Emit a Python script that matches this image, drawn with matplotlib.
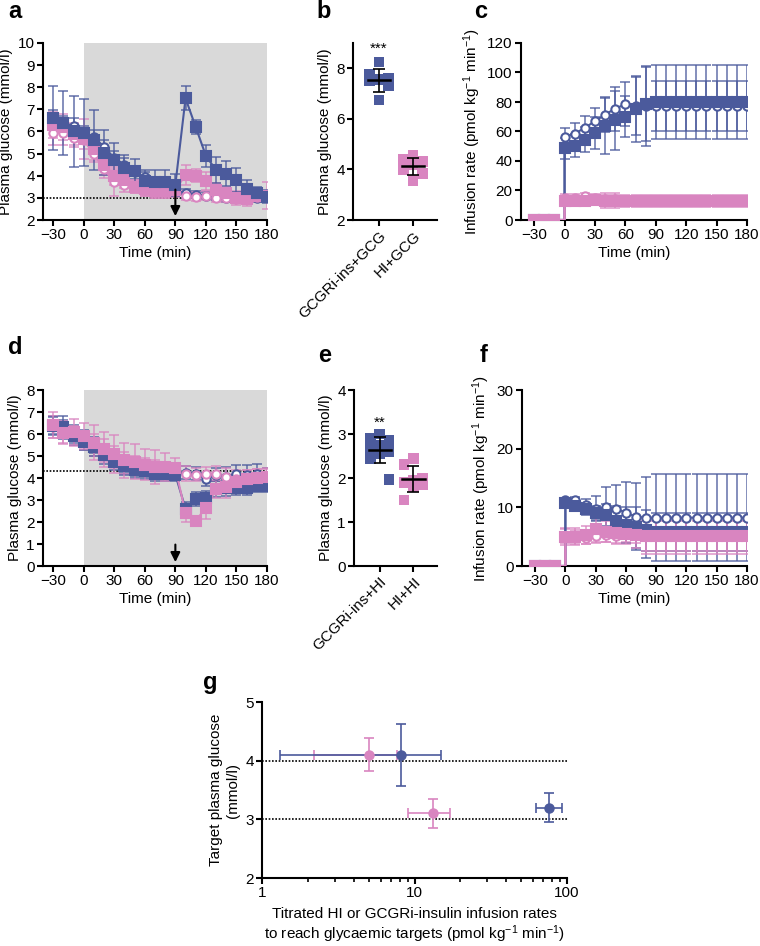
import numpy as np
import matplotlib
matplotlib.use('Agg')
import matplotlib.pyplot as plt

plt.rcParams['font.family'] = ['Liberation Sans', 'DejaVu Sans']
plt.rcParams['mathtext.default'] = 'regular'
plt.rcParams['font.size'] = 11

# Colours
BLUE = '#4b5a9c'
PINK = '#d985c0'
SHADE = '#d9d9d9'
FS = 11

# ---- Data: panels a and d (plasma glucose, mmol/l) ----
t_glu = [-30, -20, -10, 0, 10, 20, 30, 40, 50, 60, 70, 80, 90,
         100, 110, 120, 130, 140, 150, 160, 170, 180]

a_blue_sq = [6.6, 6.4, 6.0, 5.95, 5.6, 5.05, 4.7, 4.35, 4.2, 3.75, 3.7, 3.7, 3.6,
             7.5, 6.2, 4.9, 4.25, 4.1, 3.8, 3.4, 3.2, 3.05]
a_blue_sq_sd = [1.45, 1.45, 1.6, 1.5, 1.35, 1.0, 0.8, 0.6, 0.55, 0.4, 0.55, 0.55, 0.5,
                0.55, 0.3, 0.5, 0.6, 0.55, 0.55, 0.4, 0.3, 0.3]
a_blue_ci = [6.65, 6.4, 6.25, 5.95, 5.75, 5.3, 4.8, 4.5, 4.15, 3.95, 3.65, 3.45, 3.35,
             3.2, 3.15, 3.1, 3.05, 3.0, 3.05, 3.05, 3.0, 3.05]
a_blue_ci_sd = [0.3, 0.3, 0.35, 0.3, 0.3, 0.3, 0.3, 0.3, 0.3, 0.3, 0.25, 0.25, 0.2,
                0.2, 0.15, 0.15, 0.15, 0.2, 0.2, 0.2, 0.2, 0.2]
a_pink_sq = [6.3, 6.2, 5.9, 5.65, 5.2, 4.5, 4.0, 3.8, 3.5, 3.4, 3.3, 3.3, 3.35,
             4.05, 4.0, 3.75, 3.35, 3.2, 3.0, 2.95, 3.1, 3.1]
a_pink_sq_sd = [0.6, 0.6, 0.5, 0.9, 0.5, 0.45, 0.4, 0.35, 0.3, 0.3, 0.3, 0.3, 0.3,
                0.45, 0.3, 0.4, 0.3, 0.3, 0.3, 0.3, 0.3, 0.6]
a_pink_ci = [5.95, 5.95, 5.7, 5.6, 5.0, 4.3, 3.7, 3.6, 3.5, 3.35, 3.25, 3.25, 3.3,
             3.1, 3.05, 3.1, 3.0, 3.0, 2.95, 2.95, 3.05, 3.1]
a_pink_ci_sd = [0.55, 0.55, 0.4, 0.4, 0.4, 0.4, 0.6, 0.35, 0.3, 0.25, 0.25, 0.25, 0.2,
                0.2, 0.2, 0.2, 0.2, 0.2, 0.2, 0.2, 0.2, 0.2]

d_blue_sq = [6.35, 6.3, 5.9, 5.65, 5.4, 5.05, 4.75, 4.55, 4.35, 4.3, 4.2, 4.2, 4.15,
             2.6, 3.05, 3.1, 3.5, 3.55, 3.55, 3.55, 3.65, 3.65]
d_blue_sq_sd = [0.4, 0.5, 0.4, 0.4, 0.4, 0.4, 0.4, 0.4, 0.35, 0.35, 0.35, 0.35, 0.3,
                0.3, 0.3, 0.3, 0.35, 0.35, 0.3, 0.3, 0.3, 0.3]
d_blue_ci = [6.4, 6.2, 6.0, 5.8, 5.5, 5.15, 4.85, 4.6, 4.4, 4.35, 4.3, 4.3, 4.25,
             4.25, 4.2, 3.95, 4.15, 4.05, 4.2, 4.15, 4.2, 4.05]
d_blue_ci_sd = [0.4, 0.45, 0.4, 0.4, 0.35, 0.35, 0.35, 0.35, 0.3, 0.3, 0.3, 0.3, 0.3,
                0.3, 0.3, 0.3, 0.3, 0.45, 0.4, 0.45, 0.45, 0.4]
d_pink_sq = [6.4, 6.05, 6.1, 5.9, 5.6, 5.3, 5.1, 4.8, 4.75, 4.6, 4.5, 4.5, 4.45,
             2.4, 2.05, 2.65, 3.5, 3.6, 3.8, 3.95, 4.0, 4.05]
d_pink_sq_sd = [0.6, 0.5, 0.6, 0.6, 0.8, 0.8, 0.85, 0.8, 0.8, 0.7, 0.75, 0.65, 0.45,
                0.4, 0.2, 0.5, 0.4, 0.5, 0.4, 0.4, 0.4, 0.4]
d_pink_ci = [6.3, 6.1, 5.9, 5.7, 5.5, 5.25, 4.95, 4.7, 4.6, 4.5, 4.4, 4.35, 4.3,
             4.2, 4.15, 4.2, 4.2, 4.05, 3.95, 4.0, 4.05, 4.05]
d_pink_ci_sd = [0.5, 0.5, 0.45, 0.45, 0.5, 0.5, 0.5, 0.5, 0.4, 0.4, 0.4, 0.4, 0.35,
                0.35, 0.3, 0.3, 0.35, 0.4, 0.4, 0.35, 0.35, 0.35]

# ---- Data: panels b and e (individual glucose values) ----
b_labels = ['GCGRi-ins+GCG', 'HI+GCG']
b_blue = [8.25, 7.75, 7.6, 7.55, 7.5, 7.3, 6.75]
b_pink = [4.55, 4.4, 4.3, 4.2, 4.0, 3.85, 3.55]
e_labels = ['GCGRi-ins+HI', 'HI+HI']
e_blue = [3.0, 2.9, 2.85, 2.75, 2.65, 2.6, 2.55, 2.45, 1.97]
e_pink = [2.45, 2.3, 2.0, 1.95, 1.9, 1.85, 1.8, 1.5]

# ---- Data: panels c and f (infusion rates) ----
t_inf = [-30, -20, -10, 0, 0, 10, 20, 30, 40, 50, 60, 70, 80, 90,
         100, 110, 120, 130, 140, 150, 160, 170, 180]

c_blue_sq = [0, 0, 0, 0, 48.5, 50.5, 54.5, 59, 63.5, 67.5, 70, 75, 78.5, 80,
             80, 80, 80, 80, 80, 80, 80, 80, 80]
c_blue_sq_sd = [0, 0, 0, 0, 7, 8, 8.5, 11, 19, 20, 14, 22, 25, 25,
                25, 25, 25, 25, 25, 25, 25, 25, 25]
c_blue_ci = [0, 0, 0, 0, 56.5, 58.5, 62.5, 67, 71.5, 75.5, 78.5, 77.5, 77.5, 77,
             77, 77, 77, 77, 77, 77, 77, 77, 77]
c_blue_ci_sd = [0, 0, 0, 0, 6, 7.5, 8, 9, 12, 15, 15, 20, 27, 17,
                17, 17, 17, 17, 17, 17, 17, 17, 17]
c_pink_sq = [0, 0, 0, 0, 13, 13, 13, 13.5, 13, 13, 13, 13, 13, 13,
             13, 13, 13, 13, 13, 13, 13, 13, 13]
c_pink_sq_sd = [0, 0, 0, 0, 3, 3, 3, 3.5, 5, 5, 4, 4, 4, 4,
                4, 4, 4, 4, 4, 4, 4, 4, 4]
c_pink_ci = [0, 0, 0, 0, 15, 15, 16, 15, 14, 14, 13.5, 13, 13, 13,
             13, 13, 13, 13, 13, 13, 13, 13, 13]
c_pink_ci_sd = [0, 0, 0, 0, 2.5, 2.5, 2.5, 2.5, 3, 3, 3, 3, 3, 3,
                3, 3, 3, 3, 3, 3, 3, 3, 3]

f_blue_sq = [0, 0, 0, 0, 10.7, 10.2, 9.7, 9.1, 8.7, 7.7, 7.0, 6.6, 6.1, 5.8,
             5.8, 5.8, 5.8, 5.8, 5.8, 5.8, 5.8, 5.8, 5.8]
f_blue_sq_sd = [0, 0, 0, 0, 0.6, 0.8, 1.0, 1.2, 1.8, 2.5, 3.0, 3.5, 3.5, 3.3,
                3.3, 3.3, 3.3, 3.3, 3.3, 3.3, 3.3, 3.3, 3.3]
f_blue_ci = [0, 0, 0, 0, 11.2, 11.2, 10.4, 9.8, 10.0, 9.8, 9.1, 8.4, 8.25, 8.25,
             8.25, 8.25, 8.25, 8.25, 8.25, 8.25, 8.25, 8.25, 8.25]
f_blue_ci_sd = [0, 0, 0, 0, 0.3, 0.5, 1.0, 2.2, 3.4, 4.0, 5.2, 5.7, 6.9, 7.4,
                7.4, 7.4, 7.4, 7.4, 7.4, 7.4, 7.4, 7.4, 7.4]
f_pink_sq = [0, 0, 0, 0, 5.0, 5.0, 5.3, 6.25, 5.85, 5.55, 5.5, 5.3, 5.1, 5.1,
             5.1, 5.1, 5.1, 5.1, 5.1, 5.1, 5.1, 5.1, 5.1]
f_pink_sq_sd = [0, 0, 0, 0, 1.5, 1.5, 1.5, 2.3, 1.8, 1.8, 1.8, 2.2, 3.0, 3.0,
                3.0, 3.0, 3.0, 3.0, 3.0, 3.0, 3.0, 3.0, 3.0]
f_pink_ci = [0, 0, 0, 0, 5.1, 5.0, 4.7, 5.1, 5.3, 5.1, 5.45, 5.3, 5.1, 5.1,
             5.1, 5.1, 5.1, 5.1, 5.1, 5.1, 5.1, 5.1, 5.1]
f_pink_ci_sd = [0, 0, 0, 0, 1.2, 1.2, 1.0, 1.0, 1.2, 1.2, 1.3, 1.3, 2.5, 2.5,
                2.5, 2.5, 2.5, 2.5, 2.5, 2.5, 2.5, 2.5, 2.5]

# ---- Data: panel g (rate vs target glucose) ----
g_blue_rate = [8.15, 76]
g_blue_rate_lo = [1.31, 62.6]
g_blue_rate_hi = [14.9, 92.7]
g_blue_glu = [4.1, 3.2]
g_blue_glu_sd = [0.53, 0.25]
g_pink_rate = [5.0, 13.2]
g_pink_rate_lo = [2.19, 9.06]
g_pink_rate_hi = [7.7, 17.1]
g_pink_glu = [4.1, 3.1]
g_pink_glu_sd = [0.28, 0.25]

W, H = 760, 946
fig = plt.figure(figsize=(W / 100, H / 100), dpi=100)


def box(l, t, r, b):
    # axes placed by pixel edges
    return fig.add_axes([l / W, 1 - b / H, (r - l) / W, (b - t) / H])


def style(ax):
    for s in ['top', 'right']:
        ax.spines[s].set_visible(False)
    for s in ['left', 'bottom']:
        ax.spines[s].set_linewidth(1.5)
    ax.tick_params(width=1.5, length=4, labelsize=FS, pad=2)


def series(ax, t, y, sd, color, filled, mark_skip=None):
    mfc = color if filled else 'white'
    marker = 's' if filled else 'o'
    ax.errorbar(t, y, yerr=sd, fmt='none', ecolor=color, elinewidth=1.2,
                capsize=3.5, capthick=1.2, alpha=0.8, zorder=2)
    ax.plot(t, y, color=color, lw=1.5, zorder=3)
    idx = [i for i in range(len(t)) if i != mark_skip]
    ax.plot(np.array(t)[idx], np.array(y)[idx], ls='none', marker=marker,
            ms=6.5 if filled else 6, mfc=mfc, mec=color, mew=1.5, zorder=4)


def time_axis(ax, xmin):
    ax.set_xlim(xmin, 180)
    ax.set_xticks([-30, 0, 30, 60, 90, 120, 150, 180])
    ax.set_xlabel('Time (min)', fontsize=FS, labelpad=3)


def dots(ax, x, vals, color):
    # spread points side by side like a dot plot
    order = np.argsort(vals)[::-1]
    pattern = [0, -0.28, 0.28]
    xs = np.zeros(len(vals))
    for k, i in enumerate(order):
        xs[i] = x + pattern[k % 3]
    ax.scatter(xs, vals, marker='s', s=60, color=color, edgecolors='none', zorder=3)
    m, s = np.mean(vals), np.std(vals, ddof=1)
    ax.plot([x - 0.33, x + 0.33], [m, m], color='k', lw=1.8, zorder=4)
    ax.errorbar([x], [m], yerr=[s], fmt='none', ecolor='k', elinewidth=1.2,
                capsize=4, capthick=1.2, zorder=4)


# ---------- a ----------
ax = box(43, 43, 267, 220)
style(ax)
ax.axvspan(0, 180, color=SHADE, zorder=0, lw=0)
ax.axhline(3, color='k', ls=(0, (1, 1)), lw=1.2, zorder=1)
series(ax, t_glu, a_blue_ci, a_blue_ci_sd, BLUE, False)
series(ax, t_glu, a_pink_ci, a_pink_ci_sd, PINK, False)
series(ax, t_glu, a_pink_sq, a_pink_sq_sd, PINK, True)
series(ax, t_glu, a_blue_sq, a_blue_sq_sd, BLUE, True)
ax.annotate('', xy=(90, 2.05), xytext=(90, 3.5),
            arrowprops=dict(arrowstyle='-|>', color='k', lw=1.5, mutation_scale=14), zorder=6)
ax.set_ylim(2, 10)
ax.set_yticks(range(2, 11))
time_axis(ax, -40)
ax.set_ylabel('Plasma glucose (mmol/l)', fontsize=FS, labelpad=3)

# ---------- b ----------
ax = box(353, 43, 437, 220)
style(ax)
dots(ax, 0, b_blue, BLUE)
dots(ax, 1, b_pink, PINK)
ax.text(0, 8.5, '***', ha='center', va='bottom', fontsize=FS)
ax.set_xlim(-0.76, 1.7)
ax.set_ylim(2, 9)
ax.set_xticks([0, 1])
ax.set_xticklabels(b_labels, rotation=45, ha='right', rotation_mode='anchor')
ax.set_ylabel('Plasma glucose (mmol/l)', fontsize=FS, labelpad=3)

# ---------- c ----------
ax = box(521, 43, 747, 220)
style(ax)
series(ax, t_inf, c_blue_ci, c_blue_ci_sd, BLUE, False, mark_skip=3)
series(ax, t_inf, c_blue_sq, c_blue_sq_sd, BLUE, True, mark_skip=3)
series(ax, t_inf, c_pink_ci, c_pink_ci_sd, PINK, False, mark_skip=3)
series(ax, t_inf, c_pink_sq, c_pink_sq_sd, PINK, True, mark_skip=3)
ax.set_ylim(0, 120)
ax.set_yticks(range(0, 121, 20))
time_axis(ax, -43)
ax.set_ylabel('Infusion rate (pmol kg$^{-1}$ min$^{-1}$)', fontsize=FS, labelpad=3)

# ---------- d ----------
ax = box(43, 390, 267, 566)
style(ax)
ax.axvspan(0, 180, color=SHADE, zorder=0, lw=0)
ax.axhline(4.3, color='k', ls=(0, (1, 1)), lw=1.2, zorder=1)
series(ax, t_glu, d_blue_ci, d_blue_ci_sd, BLUE, False)
series(ax, t_glu, d_pink_ci, d_pink_ci_sd, PINK, False)
series(ax, t_glu, d_blue_sq, d_blue_sq_sd, BLUE, True)
series(ax, t_glu, d_pink_sq, d_pink_sq_sd, PINK, True)
ax.annotate('', xy=(90, 0.05), xytext=(90, 1.1),
            arrowprops=dict(arrowstyle='-|>', color='k', lw=1.5, mutation_scale=14), zorder=6)
ax.set_ylim(0, 8)
ax.set_yticks(range(0, 9))
time_axis(ax, -40)
ax.set_ylabel('Plasma glucose (mmol/l)', fontsize=FS, labelpad=3)

# ---------- e ----------
ax = box(354, 390, 437, 566)
style(ax)
dots(ax, 0, e_blue, BLUE)
dots(ax, 1, e_pink, PINK)
ax.text(0, 3.1, '**', ha='center', va='bottom', fontsize=FS)
ax.set_xlim(-0.76, 1.7)
ax.set_ylim(0, 4)
ax.set_xticks([0, 1])
ax.set_xticklabels(e_labels, rotation=45, ha='right', rotation_mode='anchor')
ax.set_ylabel('Plasma glucose (mmol/l)', fontsize=FS, labelpad=3)

# ---------- f ----------
ax = box(522, 390, 747, 566)
style(ax)
series(ax, t_inf, f_blue_ci, f_blue_ci_sd, BLUE, False, mark_skip=3)
series(ax, t_inf, f_blue_sq, f_blue_sq_sd, BLUE, True, mark_skip=3)
series(ax, t_inf, f_pink_ci, f_pink_ci_sd, PINK, False, mark_skip=3)
series(ax, t_inf, f_pink_sq, f_pink_sq_sd, PINK, True, mark_skip=3)
ax.set_ylim(0, 30)
ax.set_yticks([0, 10, 20, 30])
time_axis(ax, -43)
ax.set_ylabel('Infusion rate (pmol kg$^{-1}$ min$^{-1}$)', fontsize=FS, labelpad=3)

# ---------- g ----------
ax = box(262, 702, 567, 878)
style(ax)
ax.set_xscale('log')
ax.axhline(4, color='k', ls=(0, (1, 1)), lw=1.2, zorder=1)
ax.axhline(3, color='k', ls=(0, (1, 1)), lw=1.2, zorder=1)
for rate, lo, hi, glu, sd, col in [
        (g_pink_rate, g_pink_rate_lo, g_pink_rate_hi, g_pink_glu, g_pink_glu_sd, PINK),
        (g_blue_rate, g_blue_rate_lo, g_blue_rate_hi, g_blue_glu, g_blue_glu_sd, BLUE)]:
    rate = np.array(rate)
    xerr = [rate - np.array(lo), np.array(hi) - rate]
    ax.errorbar(rate, glu, xerr=xerr, yerr=sd, fmt='o', ms=6.5, color=col,
                ecolor=col, elinewidth=1.2, capsize=3.5, capthick=1.2, zorder=3)
ax.set_xlim(1, 100)
ax.set_ylim(2, 5)
ax.set_yticks([2, 3, 4, 5])
ax.set_xticks([1, 10, 100])
ax.set_xticklabels(['1', '10', '100'])
ax.tick_params(which='minor', width=1.2, length=3)
ax.set_ylabel('Target plasma glucose\n(mmol/l)', fontsize=FS, labelpad=4)
ax.set_xlabel('Titrated HI or GCGRi-insulin infusion rates\n'
              'to reach glycaemic targets (pmol kg$^{-1}$ min$^{-1}$)', fontsize=FS,
              labelpad=5, linespacing=1.15)

# panel letters
for letter, x, y in [('a', 8, 12), ('b', 316, 12), ('c', 474, 12),
                     ('d', 8, 347), ('e', 318, 355), ('f', 480, 355), ('g', 203, 682)]:
    fig.text(x / W, 1 - y / H, letter, fontsize=17, fontweight='bold', va='center', ha='left')

fig.savefig('out.png', dpi=100)
